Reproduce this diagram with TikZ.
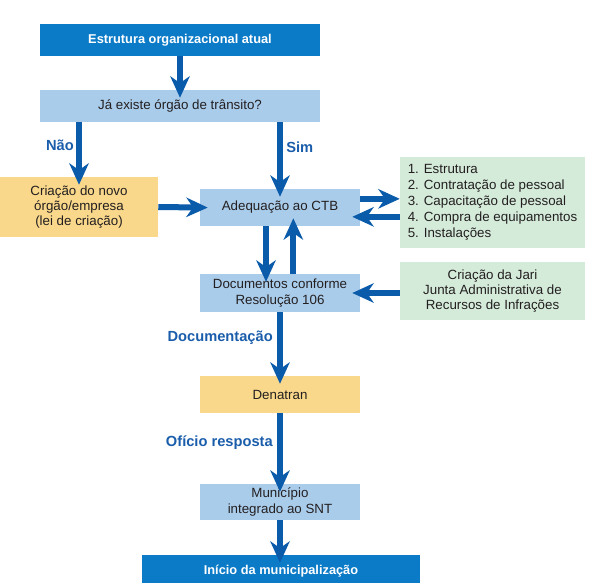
\documentclass[tikz,border=0pt]{standalone}
\usepackage{fontspec}
\setmainfont{Liberation Sans}
\usetikzlibrary{arrows.meta,positioning,calc}
\definecolor{darkbox}{HTML}{0B7BC8}
\definecolor{lightbox}{HTML}{AACCEB}
\definecolor{yellowbox}{HTML}{F9D88B}
\definecolor{greenbox}{HTML}{D5EBDA}
\definecolor{arrowblue}{HTML}{0A5BAA}
\definecolor{labelblue}{HTML}{1A5DAB}
\definecolor{boxtext}{HTML}{231F20}
\begin{document}
\begin{tikzpicture}
[x=0.75pt,y=-0.75pt,inner sep=0pt,
box/.style={rectangle,minimum width=120pt,align=center,text=boxtext,
  font=\fontsize{10}{11.5}\selectfont},
strong/.style={rectangle,fill=darkbox,minimum height=24pt,text=white,
  font=\fontsize{9.6}{12}\selectfont\bfseries},
blue/.style={box,fill=lightbox},
yellow/.style={box,fill=yellowbox},
green/.style={box,fill=greenbox,minimum width=138.75pt},
arr/.style={draw=arrowblue,line width=4.5pt,shorten >=-6pt,
  -{Stealth[length=16pt,width=14.5pt,inset=5pt]}},
lbl/.style={text=labelblue,font=\fontsize{11}{13}\selectfont\bfseries}]
\useasboundingbox (0,0) rectangle (595,582);
\node[strong,minimum width=210pt] (atual) at (180,40) {Estrutura organizacional atual};
\node[blue,minimum width=210pt,minimum height=24pt] (existe) at (180,106) {Já existe órgão de trânsito?};
\node[yellow,minimum width=118.5pt,minimum height=45pt] (criacao) at (79,207) {Criação do novo\\órgão/empresa\\(lei de criação)};
\node[blue,minimum height=27.75pt] (ctb) at (280,207.5) {Adequação ao CTB};
\node[green,minimum height=68.25pt,align=left,font=\fontsize{10}{12}\selectfont] (itens) at (492.5,202.5)
  {1. Estrutura\\2. Contratação de pessoal\\3. Capacitação de pessoal\\4. Compra de equipamentos\\5. Instalações};
\node[blue,minimum height=28.5pt] (docs) at (280,293) {Documentos conforme\\Resolução 106};
\node[green,minimum height=43.5pt] (jari) at (492.5,291) {Criação da Jari\\Junta Administrativa de\\Recursos de Infrações};
\node[yellow,minimum height=27.75pt] (denatran) at (280,394.5) {Denatran};
\node[blue,minimum height=27pt] (snt) at (280,502) {Município\\integrado ao SNT};
\node[strong,minimum width=208.5pt] (inicio) at (281,571) {Início da municipalização};

\draw[arr] (atual) -- (existe);
\draw[arr] (criacao.north |- existe.south) -- (criacao.north);
\draw[arr] (ctb.north |- existe.south) -- (ctb.north);
\draw[arr] (criacao.east) -- (ctb.west);
\draw[arr,shorten >=0pt] ([yshift=6.5pt]ctb.east) -- ([yshift=6.5pt]ctb.east -| itens.west);
\draw[arr] ([yshift=-7pt]ctb.east -| itens.west) -- ([yshift=-7pt]ctb.east);
\draw[arr] ([xshift=-10.5pt]ctb.south) -- ([xshift=-10.5pt]docs.north);
\draw[arr] ([xshift=10pt]docs.north) -- ([xshift=10pt]ctb.south);
\draw[arr] (jari.west |- docs.east) -- (docs.east);
\draw[arr] (docs) -- (denatran);
\draw[arr] (denatran) -- (snt);
\draw[arr] (snt) -- (inicio.north -| snt.south);

\node[lbl,anchor=east] (nao) at (74,145) {Não};
\node[lbl,anchor=west] (sim) at (286,147) {Sim};
\node[lbl,anchor=east] (documentacao) at (273,338) {Documentação};
\node[lbl,anchor=east] (oficio) at (273,443) {Ofício resposta};
\end{tikzpicture}
\end{document}
